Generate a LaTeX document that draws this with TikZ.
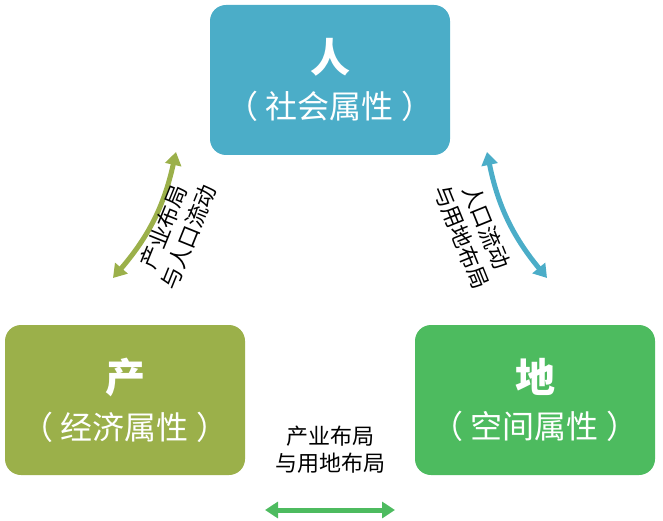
\documentclass[tikz,border=0pt]{standalone}
\usepackage{fontspec}
\setmainfont{Noto Sans CJK SC}
\usetikzlibrary{arrows.meta}
\definecolor{renblue}{HTML}{4BADC8}
\definecolor{chanolive}{HTML}{9BB04A}
\definecolor{digreen}{HTML}{4DBB5F}
\tikzset{every picture/.style={line width=0.75pt}}
\tikzset{
  attrbox/.style={rounded corners=16pt,minimum width=240pt,minimum height=150pt,text=white,align=center,inner sep=0pt},
  linkarrow/.style={line width=5pt,{Triangle[length=13pt,width=16pt]}-{Triangle[length=13pt,width=16pt]}},
  linklabel/.style={align=center,font=\fontsize{22}{27}\selectfont,inner sep=0.75pt}
}
\begin{document}
\begin{tikzpicture}[x=1pt,y=1pt,yscale=-1,xscale=1]
		\useasboundingbox (0,0) rectangle (663,521);
		
		% Boxes
		\node [attrbox,fill=renblue] (ren) at (330,80) {{\fontsize{40}{44}\selectfont\bfseries 人}\\[14pt]{\fontsize{32}{36}\selectfont （ 社会属性 ）}};
		\node [attrbox,fill=chanolive] (chan) at (125,400) {{\fontsize{40}{44}\selectfont\bfseries 产}\\[14pt]{\fontsize{32}{36}\selectfont （ 经济属性 ）}};
		\node [attrbox,fill=digreen] (di) at (535,400) {{\fontsize{40}{44}\selectfont\bfseries 地}\\[14pt]{\fontsize{32}{36}\selectfont （ 空间属性 ）}};
		
		% Arrow ends
		\coordinate (lt) at (176,152);
		\coordinate (lb) at (113,278);
		\coordinate (rt) at (487,152);
		\coordinate (rb) at (547,278);
		\coordinate (bl) at (265,510);
		\coordinate (br) at (395,510);
		
		% Arrows
		\draw [linkarrow,chanolive] (lt) to[bend right=14] (lb);
		\draw [linkarrow,renblue] (rt) to[bend left=14] (rb);
		\draw [linkarrow,digreen] (bl) -- (br);
		
		% Labels
		\node [linklabel,rotate=68] (lablft) at (176,232) {产业布局\\与人口流动};
		\node [linklabel,rotate=-68] (labrgt) at (474,232) {人口流动\\与用地布局};
		\node [linklabel] (labbot) at (330,450) {产业布局\\与用地布局};
		
\end{tikzpicture}
\end{document}
